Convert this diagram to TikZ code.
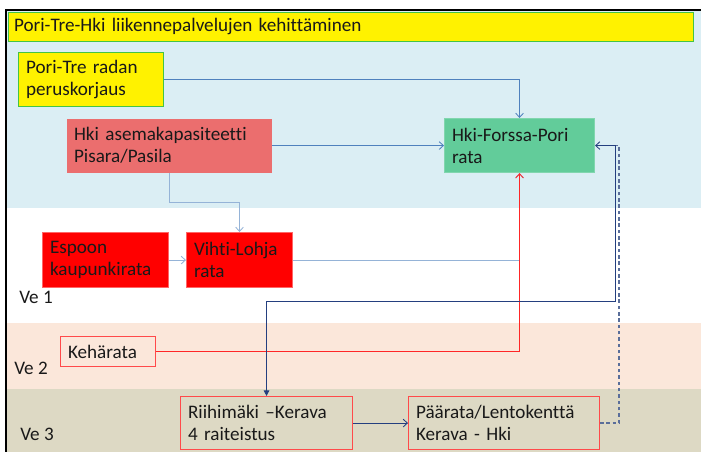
\documentclass[tikz,border=0pt]{standalone}
\usepackage{fontspec}
\setmainfont{Carlito}[Ligatures=NoCommon]
\usetikzlibrary{arrows.meta}

\definecolor{taivas}{HTML}{DBEEF4}
\definecolor{persikka}{HTML}{FBE7DA}
\definecolor{khaki}{HTML}{DDD9C4}
\definecolor{lohi}{HTML}{EB6E6E}
\definecolor{vihrea}{HTML}{62CC9A}
\definecolor{reuna}{HTML}{44C444}
\definecolor{punareuna}{HTML}{FF4A4A}
\definecolor{sininen}{HTML}{4F81BD}
\definecolor{vaalea}{HTML}{95B3D7}
\definecolor{tumma}{HTML}{243F7F}
\definecolor{katko}{HTML}{5A6E9A}

\tikzset{
  laatikko/.style={anchor=north west, align=left, inner xsep=5.3pt, inner ysep=0pt,
    font=\fontsize{13.6}{15.6}\selectfont, line width=0.8pt, text=black!90},
  teksti/.style={anchor=west, inner sep=0pt, font=\fontsize{13.6}{15.6}\selectfont, text=black!90},
  yhteys/.style={line width=0.6pt, -{Straight Barb[length=3pt,width=5.5pt]}},
}

\begin{document}
\begin{tikzpicture}[x=0.025cm, y=-0.025cm]
    \useasboundingbox (0,0) rectangle (701,452);

    % Taustakaistat
    \fill[taivas] (7,11) rectangle (701,208);
    \fill[white] (7,208) rectangle (701,323);
    \fill[persikka] (7,323) rectangle (701,389);
    \fill[khaki] (7,389) rectangle (701,452);
    \draw[line width=1.4pt] (6,452) -- (6,10) -- (701,10);

    % Otsikko
    \node[laatikko, fill=yellow, draw=reuna, line width=0.6pt, minimum height=0.725cm,
      text width=16.85cm, inner xsep=4pt] (otsikko) at (8,12)
      {Pori-Tre-Hki liikennepalvelujen kehittäminen};

    % Laatikot
    \node[laatikko, fill=yellow, draw=reuna, minimum height=1.35cm, text width=3.25cm]
      (pori) at (18,52) {Pori-Tre radan\\peruskorjaus};
    \node[laatikko, fill=lohi, minimum height=1.35cm, text width=4.75cm]
      (hki) at (66,118) {Hki asemakapasiteetti\\Pisara/Pasila};
    \node[laatikko, fill=vihrea, draw=vihrea!80!white, minimum height=1.35cm, text width=3.375cm]
      (forssa) at (444,118) {Hki-Forssa-Pori\\rata};
    \node[laatikko, fill=red, draw=red!60!white, minimum height=1.375cm, text width=2.775cm]
      (espoo) at (42,232) {Espoon\\kaupunkirata};
    \node[laatikko, fill=red, draw=red!60!white, minimum height=1.375cm, text width=2.275cm]
      (vihti) at (186,232) {Vihti-Lohja\\rata};
    \node[laatikko, draw=punareuna, minimum height=0.75cm, text width=2.0cm]
      (keha) at (60,336) {Kehärata};
    \node[laatikko, draw=punareuna, minimum height=1.325cm, text width=3.925cm]
      (riihi) at (180,396) {Riihimäki –Kerava\\4 raiteistus};
    \node[laatikko, draw=punareuna, minimum height=1.325cm, text width=4.4cm]
      (paa) at (408,396) {Päärata/Lentokenttä\\Kerava - Hki};

    % Vaihtoehdot
    \node[teksti] (ve1) at (19,297) {Ve 1};
    \node[teksti] (ve2) at (14,368) {Ve 2};
    \node[teksti] (ve3) at (20,434) {Ve 3};

    % Yhteydet
    \draw[yhteys, sininen] (pori.east) -| (forssa.north);
    \draw[yhteys, sininen] (hki.east) -- (forssa.west);
    \draw[yhteys, vaalea] (hki.south) |- ([yshift=0.75cm]vihti.north) -- (vihti.north);
    \draw[yhteys, vaalea] (espoo.east) -- (vihti.west);
    \draw[yhteys, vaalea] (vihti.east) -| (forssa.south);
    \draw[yhteys, red!85!white] (keha.east) -| (forssa.south);
    \draw[katko, line width=0.9pt, dash pattern=on 2.5pt off 2pt] (paa.east) -- ++(19,0) |- (forssa.east);
    \draw[tumma, line width=0.6pt, {Straight Barb[length=3pt,width=5.5pt]}-{Triangle[length=4pt,width=4pt]}]
      (forssa.east) -- ++(20,0) |- ([yshift=2.375cm]riihi.north) -- (riihi.north);
    \draw[yhteys, tumma] (riihi.east) -- (paa.west);
\end{tikzpicture}
\end{document}
